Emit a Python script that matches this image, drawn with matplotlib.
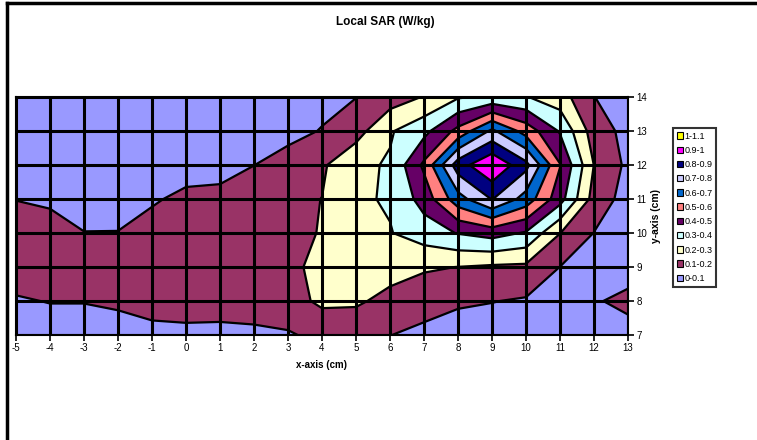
import numpy as np
import matplotlib.pyplot as plt
from matplotlib.patches import Patch
from matplotlib.lines import Line2D

plt.rcParams['font.family'] = ['Liberation Sans', 'DejaVu Sans']
plt.rcParams['axes.unicode_minus'] = False

# grid positions (cm)
x_cm = list(range(-5, 14))
y_cm = list(range(7, 15))

# local SAR values (W/kg), one list per row, x = -5 .. 13
sar_y7 = [0.04, 0.05, 0.05, 0.06, 0.07, 0.075, 0.075, 0.08, 0.09, 0.125, 0.13, 0.102, 0.07, 0.05, 0.05, 0.04, 0.03, 0.03, 0.04]
sar_y8 = [0.09, 0.104, 0.104, 0.115, 0.14, 0.145, 0.14, 0.145, 0.16, 0.22, 0.215, 0.17, 0.15, 0.115, 0.103, 0.09, 0.06, 0.085, 0.14]
sar_y9 = [0.15, 0.16, 0.15, 0.16, 0.17, 0.17, 0.17, 0.18, 0.19, 0.212, 0.25, 0.24, 0.21, 0.199, 0.185, 0.18, 0.099, 0.05, 0.03]
sar_y10 = [0.14, 0.15, 0.102, 0.102, 0.15, 0.16, 0.17, 0.18, 0.19, 0.202, 0.25, 0.295, 0.35, 0.405, 0.44, 0.39, 0.202, 0.098, 0.04]
sar_y11 = [0.098, 0.08, 0.06, 0.07, 0.085, 0.13, 0.135, 0.16, 0.18, 0.201, 0.285, 0.31, 0.44, 0.66, 0.805, 0.66, 0.44, 0.16, 0.06]
sar_y12 = [0.05, 0.05, 0.04, 0.045, 0.05, 0.045, 0.055, 0.099, 0.14, 0.186, 0.277, 0.31, 0.52, 0.854, 0.99, 0.83, 0.505, 0.198, 0.078]
sar_y13 = [0.03, 0.03, 0.03, 0.03, 0.03, 0.035, 0.04, 0.05, 0.07, 0.105, 0.16, 0.29, 0.37, 0.53, 0.72, 0.56, 0.39, 0.15, 0.07]
sar_y14 = [0.02, 0.02, 0.02, 0.02, 0.02, 0.03, 0.03, 0.04, 0.05, 0.07, 0.098, 0.15, 0.205, 0.29, 0.32, 0.305, 0.245, 0.102, 0.04]

levels = [0.0, 0.1, 0.2, 0.3, 0.4, 0.5, 0.6, 0.7, 0.8, 0.9, 1.0, 1.1]
level_labels = ['0-0.1', '0.1-0.2', '0.2-0.3', '0.3-0.4', '0.4-0.5', '0.5-0.6',
                '0.6-0.7', '0.7-0.8', '0.8-0.9', '0.9-1', '1-1.1']
band_colors = ['#9999FF', '#993366', '#FFFFCC', '#CCFFFF', '#660066', '#FF8080',
               '#0066CC', '#CCCCFF', '#000080', '#FF00FF', '#FFFF00']

W, H = 757, 440
fig = plt.figure(figsize=(W / 100, H / 100), dpi=100)
ax = fig.add_axes([16 / W, 105 / H, 612 / W, 238 / H])

Z = np.array([sar_y7, sar_y8, sar_y9, sar_y10, sar_y11, sar_y12, sar_y13, sar_y14])
ax.contourf(x_cm, y_cm, Z, levels=levels, colors=band_colors)
ax.contour(x_cm, y_cm, Z, levels=levels[1:-1], colors='black', linewidths=1.6)

ax.set_xlim(-5, 13)
ax.set_ylim(7, 14)
ax.set_xticks(x_cm)
ax.set_yticks(y_cm)
ax.yaxis.tick_right()
ax.yaxis.set_label_position('right')
ax.grid(True, color='black', linewidth=2.2)
ax.set_axisbelow(False)
for s in ax.spines.values():
    s.set_linewidth(1.5)
ax.tick_params(direction='out', length=4, width=1.2, labelsize=7, pad=2, colors='black')

ax.set_xlabel('x-axis (cm)', fontsize=7, fontweight='bold', labelpad=5)
ax.set_ylabel('y-axis (cm)', fontsize=7.5, fontweight='bold', labelpad=3)

fig.text(385 / W, 1 - 22 / H, 'Local SAR (W/kg)', ha='center', va='center',
         fontsize=8.5, fontweight='bold')

handles = [Patch(facecolor=c, edgecolor='black', linewidth=0.8) for c in band_colors[::-1]]
leg = fig.legend(handles, level_labels[::-1], loc='upper left',
                 bbox_to_anchor=(673 / W, 1 - 128 / H), frameon=True, fancybox=False,
                 edgecolor='black', fontsize=6.5, handlelength=0.7, handleheight=0.7,
                 handletextpad=0.2, labelspacing=0.58, borderpad=0.4, borderaxespad=0)
leg.get_frame().set_linewidth(1.5)

# outer chart border (left and top edges visible)
fig.add_artist(Line2D([7 / W, 7 / W], [0, 1 - 3 / H], color='black', lw=2.5, transform=fig.transFigure))
fig.add_artist(Line2D([7 / W, 1], [1 - 3 / H, 1 - 3 / H], color='black', lw=2.5, transform=fig.transFigure))

fig.savefig('out.png', dpi=100)
